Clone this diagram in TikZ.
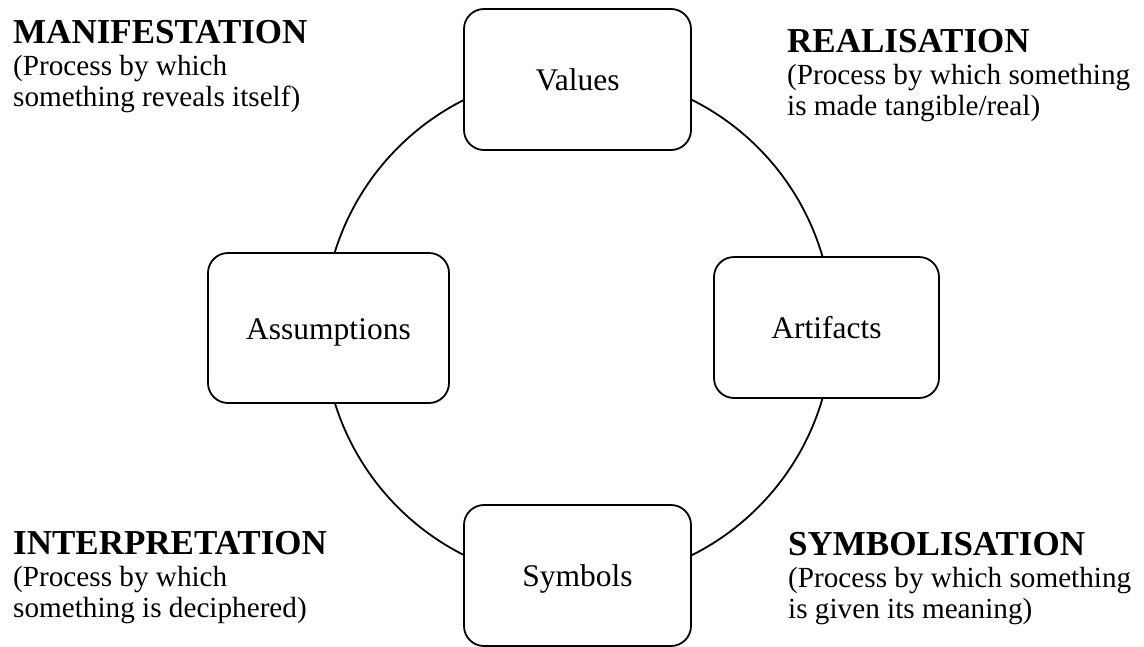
\documentclass[tikz,border=0pt]{standalone}
\usepackage{fontspec}
\setmainfont{Liberation Serif}
\def\proclabel[#1](#2,#3)#4#5#6{
	\node[head] (#1-head) at (#2, #3) {#4};
	\node[desc] (#1-a) at (#2, #3+32) {#5};
	\node[desc] (#1-b) at (#2, #3+63) {#6};}
\tikzset{
	stage/.style={draw, line width=1.8pt, fill=white, rounded corners=20pt, inner sep=0pt, text height=22pt, text depth=0pt, font=\fontsize{31.5}{36}\selectfont},
	head/.style={inner sep=0pt, anchor=base west, font=\fontsize{35}{40}\selectfont\bfseries},
	desc/.style={inner sep=0pt, anchor=base west, font=\fontsize{29.2}{34}\selectfont}
}

\begin{document}
\begin{tikzpicture}[x=1pt, y=-1pt]
		%%%%% START %%%%%
		\useasboundingbox (0, 0) rectangle (1144, 646);
		
		\draw[line width=1.8pt] (578, 327.5) circle (254.5pt);
		
		\node[stage, minimum width=227pt, minimum height=141pt] (values) at (577.5, 79.5) {Values};
		\node[stage, minimum width=241pt, minimum height=150pt] (assumptions) at (328.5, 328) {Assumptions};
		\node[stage, minimum width=225pt, minimum height=141pt] (artifacts) at (826.5, 327.5) {Artifacts};
		\node[stage, minimum width=227pt, minimum height=141pt] (symbols) at (577.5, 575.5) {Symbols};
		
		\proclabel[manifest](13, 43){MANIFESTATION}{(Process by which}{something reveals itself)}
		\proclabel[realise](787, 52){REALISATION}{(Process by which something}{is made tangible/real)}
		\proclabel[interpret](13, 554){INTERPRETATION}{(Process by which}{something is deciphered)}
		\proclabel[symbolise](788, 555){SYMBOLISATION}{(Process by which something}{is given its meaning)}
		
		%%%%% END %%%%%
	\end{tikzpicture}
\end{document}
